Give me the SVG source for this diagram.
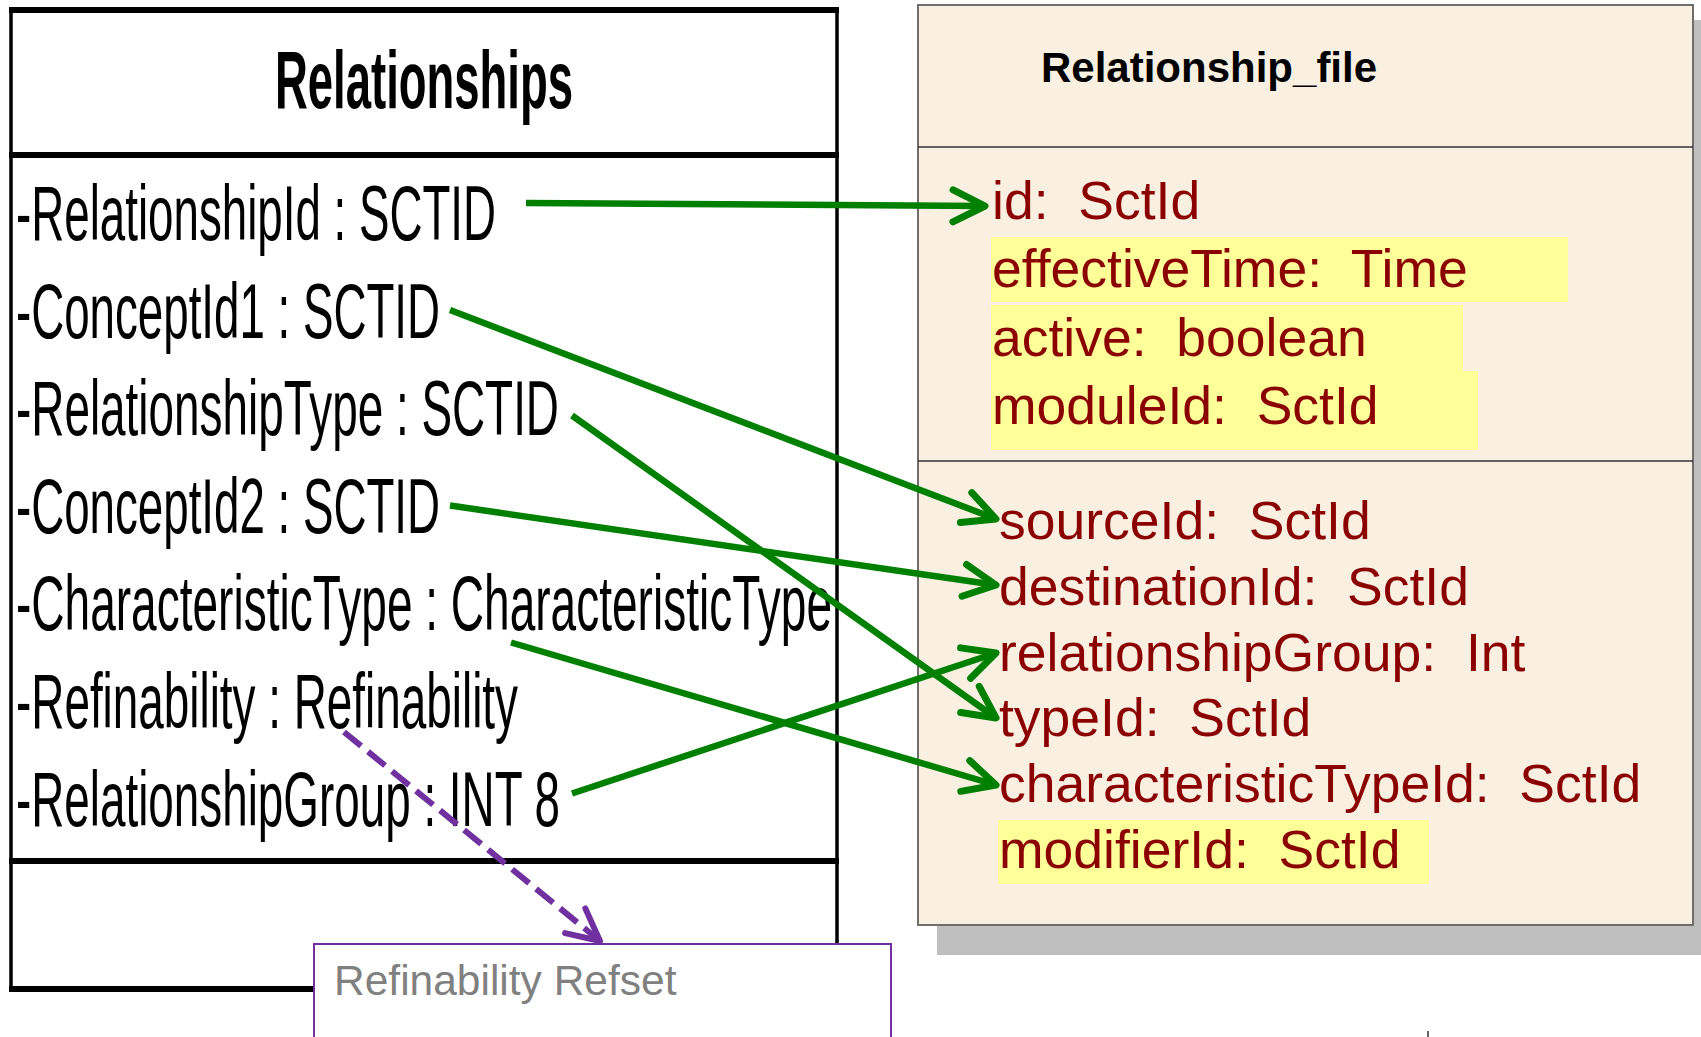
<svg xmlns="http://www.w3.org/2000/svg" width="1701" height="1037" viewBox="0 0 1701 1037">
<defs>
<style>
.lt{font-family:"Liberation Sans",Arial,sans-serif;font-size:78px;fill:#000}
.rt{font-family:"Liberation Sans",Arial,sans-serif;font-size:53.5px;fill:#8B0000;white-space:pre}
.hl{fill:#FFFF99}
.g{stroke:#008000;stroke-width:6.5;fill:none;stroke-linecap:butt}
.p{stroke:#7030A0;stroke-width:6;fill:none;stroke-dasharray:22 9}
</style>
<marker id="ag" markerUnits="userSpaceOnUse" viewBox="-40 -22 46 44" refX="0" refY="0" markerWidth="46" markerHeight="44" orient="auto" overflow="visible">
<path d="M-32,-16 L0,0 L-32,16" fill="none" stroke="#008000" stroke-width="7" stroke-linecap="round" stroke-linejoin="round"/>
</marker>
<marker id="ap" markerUnits="userSpaceOnUse" viewBox="-40 -22 46 44" refX="0" refY="0" markerWidth="46" markerHeight="44" orient="auto" overflow="visible">
<path d="M-32,-16 L0,0 L-32,16" fill="none" stroke="#7030A0" stroke-width="6" stroke-linecap="round" stroke-linejoin="round"/>
</marker>
</defs>
<rect width="1701" height="1037" fill="#fff"/>

<g id="relationships">
<line x1="11" y1="10" x2="11" y2="989" stroke="#000" stroke-width="3.5"/>
<line x1="837" y1="10" x2="837" y2="944" stroke="#000" stroke-width="3.5"/>
<line x1="9" y1="10" x2="839" y2="10" stroke="#000" stroke-width="6"/>
<line x1="9" y1="155" x2="839" y2="155" stroke="#000" stroke-width="6"/>
<line x1="9" y1="861" x2="839" y2="861" stroke="#000" stroke-width="6"/>
<line x1="9" y1="989" x2="315" y2="989" stroke="#000" stroke-width="6"/>
<text x="275" y="108" font-family="'Liberation Sans',Arial,sans-serif" font-size="82" font-weight="bold" textLength="298" lengthAdjust="spacingAndGlyphs">Relationships</text>
<text class="lt" x="16" y="240" textLength="480" lengthAdjust="spacingAndGlyphs">-RelationshipId : SCTID</text>
<text class="lt" x="16" y="337.6" textLength="424" lengthAdjust="spacingAndGlyphs">-ConceptId1 : SCTID</text>
<text class="lt" x="16" y="435.2" textLength="543" lengthAdjust="spacingAndGlyphs">-RelationshipType : SCTID</text>
<text class="lt" x="16" y="532.8" textLength="424" lengthAdjust="spacingAndGlyphs">-ConceptId2 : SCTID</text>
<text class="lt" x="16" y="630.4" textLength="816" lengthAdjust="spacingAndGlyphs">-CharacteristicType : CharacteristicType</text>
<text class="lt" x="16" y="728" textLength="502" lengthAdjust="spacingAndGlyphs">-Refinability : Refinability</text>
<text class="lt" x="16" y="825.6" textLength="544" lengthAdjust="spacingAndGlyphs">-RelationshipGroup : INT 8</text>
</g>

<g id="relationship_file">
<rect x="937" y="20" width="770" height="935" fill="#BFBFBF"/>
<rect x="918" y="5" width="775" height="920" fill="#FAF0E2" stroke="#6E6E6E" stroke-width="2"/>
<line x1="918" y1="147" x2="1693" y2="147" stroke="#333" stroke-width="1.5"/>
<line x1="918" y1="461" x2="1693" y2="461" stroke="#333" stroke-width="1.5"/>
<text x="1041" y="82" font-family="'Liberation Sans',Arial,sans-serif" font-size="42" font-weight="bold" fill="#000">Relationship_file</text>
<rect class="hl" x="991" y="237" width="577" height="65"/>
<rect class="hl" x="991" y="305" width="472" height="67"/>
<rect class="hl" x="991" y="371" width="487" height="79"/>
<rect class="hl" x="998" y="820" width="431" height="64"/>
<text class="rt" xml:space="preserve" x="992" y="219">id:  SctId</text>
<text class="rt" xml:space="preserve" x="992" y="287.3">effectiveTime:  Time</text>
<text class="rt" xml:space="preserve" x="992" y="355.5">active:  boolean</text>
<text class="rt" xml:space="preserve" x="992" y="424">moduleId:  SctId</text>
<text class="rt" xml:space="preserve" x="999" y="539">sourceId:  SctId</text>
<text class="rt" xml:space="preserve" x="999" y="604.8">destinationId:  SctId</text>
<text class="rt" xml:space="preserve" x="999" y="670.6">relationshipGroup:  Int</text>
<text class="rt" xml:space="preserve" x="999" y="736.4">typeId:  SctId</text>
<text class="rt" xml:space="preserve" x="999" y="802.2">characteristicTypeId:  SctId</text>
<text class="rt" xml:space="preserve" x="999" y="868">modifierId:  SctId</text>
</g>

<g id="refinability_refset">
<rect x="314" y="944" width="577" height="120" fill="#fff" stroke="#7030A0" stroke-width="2"/>
<text x="334" y="995" font-family="'Liberation Sans',Arial,sans-serif" font-size="42.5" fill="#808080">Refinability Refset</text>
</g>

<line x1="1428" y1="1031" x2="1428" y2="1037" stroke="#333" stroke-width="1.5"/>

<g id="connectors">
<line class="g" x1="526" y1="203" x2="985" y2="206" marker-end="url(#ag)"/>
<line class="g" x1="450" y1="310" x2="996" y2="519" marker-end="url(#ag)"/>
<line class="g" x1="572" y1="415.5" x2="996" y2="718" marker-end="url(#ag)"/>
<line class="g" x1="450" y1="505.5" x2="996" y2="585" marker-end="url(#ag)"/>
<line class="g" x1="511" y1="642.5" x2="996" y2="785" marker-end="url(#ag)"/>
<line class="g" x1="572" y1="793.5" x2="996" y2="653" marker-end="url(#ag)"/>
<line class="p" x1="344" y1="732" x2="600" y2="941" marker-end="url(#ap)"/>
</g>
</svg>
